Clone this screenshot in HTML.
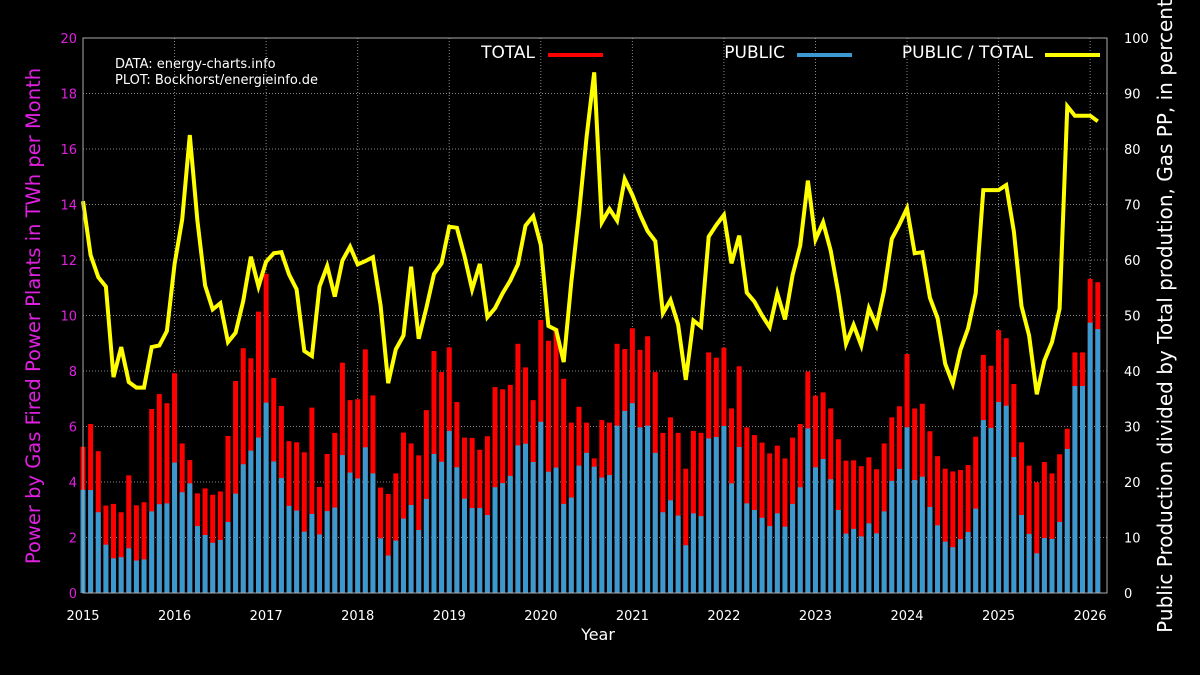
<!DOCTYPE html>
<html><head><meta charset="utf-8"><style>
html,body{margin:0;padding:0;background:#000;}
svg{display:block;font-family:"DejaVu Sans","Liberation Sans",sans-serif;}
</style></head><body>
<svg id="chart" width="1200" height="675" viewBox="0 0 1200 675">
<rect width="1200" height="675" fill="#000"/>
<g id="grid"></g><g id="bars"></g><g id="line"></g><g id="axes"></g>
<text x="115" y="68" fill="#fff" font-size="13">DATA: energy-charts.info</text>
<text x="115" y="84" fill="#fff" font-size="13">PLOT: Bockhorst/energieinfo.de</text>
<g>
<text x="535" y="58" fill="#fff" font-size="17" text-anchor="end">TOTAL</text>
<line x1="548" y1="55" x2="603" y2="55" stroke="#f00" stroke-width="4"/>
<text x="785" y="58" fill="#fff" font-size="17" text-anchor="end">PUBLIC</text>
<line x1="797" y1="55" x2="852" y2="55" stroke="#3a9ad0" stroke-width="4"/>
<text x="1033" y="58" fill="#fff" font-size="17" text-anchor="end">PUBLIC / TOTAL</text>
<line x1="1045" y1="55" x2="1100" y2="55" stroke="#ff0" stroke-width="4"/>
</g>
<text transform="translate(40,316) rotate(-90)" fill="#e020e0" font-size="19.5" text-anchor="middle">Power by Gas Fired Power Plants in TWh per Month</text>
<text transform="translate(1172,316) rotate(-90)" fill="#fff" font-size="20" text-anchor="middle">Public Production divided by Total prodution, Gas PP, in percent</text>
<text x="598" y="640" fill="#fff" font-size="16" text-anchor="middle">Year</text>
</svg>
<script>
const years=["2015","2016","2017","2018","2019","2020","2021","2022","2023","2024","2025","2026"];
const leftTicks=[0,2,4,6,8,10,12,14,16,18,20];
const rightTicks=[0,10,20,30,40,50,60,70,80,90,100];
const total=[5.27,6.09,5.11,3.15,3.21,2.91,4.24,3.16,3.27,6.63,7.17,6.84,7.92,5.39,4.79,3.59,3.77,3.54,3.66,5.66,7.64,8.82,8.46,10.14,11.5,7.75,6.74,5.47,5.43,5.07,6.68,3.82,5.01,5.77,8.30,6.95,6.98,8.78,7.12,3.80,3.57,4.31,5.78,5.39,4.96,6.59,8.72,7.96,8.85,6.88,5.60,5.59,5.16,5.65,7.42,7.34,7.50,8.98,8.13,6.95,9.84,9.09,9.53,7.72,6.14,6.71,6.14,4.85,6.23,6.14,8.98,8.79,9.54,8.76,9.25,7.96,5.77,6.33,5.77,4.48,5.84,5.77,8.67,8.48,8.84,6.65,8.17,5.97,5.69,5.42,5.03,5.31,4.85,5.60,6.09,7.98,7.11,7.23,6.65,5.54,4.77,4.78,4.57,4.89,4.46,5.39,6.33,6.73,8.61,6.65,6.82,5.83,4.93,4.48,4.38,4.43,4.61,5.63,8.58,8.19,9.47,9.18,7.53,5.43,4.59,3.99,4.72,4.31,5.00,5.92,8.67,8.67,11.32,11.20];
const pub=[3.72,3.71,2.91,1.74,1.25,1.29,1.61,1.17,1.21,2.94,3.20,3.23,4.70,3.63,3.95,2.41,2.09,1.81,1.91,2.56,3.58,4.64,5.13,5.60,6.86,4.74,4.14,3.14,2.97,2.21,2.85,2.11,2.95,3.08,4.97,4.34,4.13,5.25,4.31,1.97,1.35,1.89,2.68,3.17,2.27,3.39,5.01,4.73,5.84,4.53,3.40,3.06,3.06,2.81,3.81,3.96,4.22,5.32,5.38,4.72,6.17,4.37,4.52,3.21,3.44,4.59,5.05,4.55,4.16,4.25,6.03,6.56,6.84,5.97,6.03,5.05,2.91,3.34,2.79,1.72,2.87,2.77,5.57,5.62,6.02,3.95,5.26,3.23,2.99,2.71,2.41,2.87,2.39,3.21,3.81,5.93,4.53,4.83,4.10,2.99,2.14,2.31,2.04,2.51,2.15,2.94,4.04,4.47,5.97,4.07,4.19,3.10,2.44,1.85,1.65,1.94,2.20,3.04,6.23,5.95,6.88,6.75,4.90,2.81,2.13,1.43,1.98,1.95,2.56,5.19,7.46,7.46,9.74,9.51];
const ratio=[70.6,60.9,56.9,55.2,38.9,44.3,38.0,37.0,37.0,44.3,44.6,47.2,59.3,67.3,82.5,67.1,55.4,51.1,52.2,45.2,46.9,52.6,60.6,55.2,59.7,61.2,61.4,57.4,54.7,43.6,42.7,55.2,58.9,53.4,59.9,62.4,59.2,59.8,60.5,51.8,37.8,43.9,46.4,58.8,45.8,51.4,57.5,59.4,66.0,65.8,60.7,54.7,59.3,49.7,51.3,54.0,56.3,59.2,66.2,67.9,62.7,48.1,47.4,41.6,56.0,68.4,82.2,93.8,66.8,69.2,67.1,74.6,71.7,68.2,65.2,63.4,50.4,52.8,48.4,38.4,49.1,48.0,64.2,66.3,68.1,59.4,64.4,54.1,52.5,50.0,47.9,54.0,49.3,57.3,62.6,74.3,63.7,66.8,61.7,54.0,44.9,48.3,44.6,51.3,48.2,54.5,63.8,66.4,69.3,61.2,61.4,53.2,49.5,41.3,37.7,43.8,47.7,54.0,72.6,72.6,72.6,73.5,65.1,51.7,46.4,35.8,41.9,45.2,51.2,87.7,86.0,86.0,86.0,85.0];

const NS="http://www.w3.org/2000/svg";
const X0=83,DX=7.63,YB=593,YT=38,PL=83,PR=1107;
const xOf=i=>X0+i*DX;
const yL=v=>YB-(v/20)*(YB-YT);
const yR=v=>YB-(v/100)*(YB-YT);
function mk(tag,attrs,parent){const e=document.createElementNS(NS,tag);for(const k in attrs)e.setAttribute(k,attrs[k]);parent.appendChild(e);return e;}
const grid=document.getElementById('grid'),bars=document.getElementById('bars'),line=document.getElementById('line'),axes=document.getElementById('axes');

leftTicks.forEach((t,k)=>{
  const y=yL(t);
  if(k>0&&k<leftTicks.length-1){const g=mk('line',{x1:PL,x2:PR,y1:y,y2:y,stroke:'#888','stroke-width':1,'stroke-dasharray':'1,2'},grid);
  
  }
  const tx=mk('text',{x:77,y:y+5,fill:'#e020e0','font-size':13,'text-anchor':'end'},axes);tx.textContent=t;
  
  
});
rightTicks.forEach(t=>{
  const y=yR(t);
  const tx=mk('text',{x:1124,y:y+5,fill:'#fff','font-size':13,'text-anchor':'start'},axes);tx.textContent=t;
  
  
});
years.forEach((yr,k)=>{
  const x=xOf(k*12);
  if(k>0){const g=mk('line',{x1:x,x2:x,y1:YT,y2:YB,stroke:'#888','stroke-width':1,'stroke-dasharray':'1,2'},grid);
  
  }
  const tx=mk('text',{x:x,y:620,fill:'#fff','font-size':13,'text-anchor':'middle'},axes);tx.textContent=yr;
  
  
});
const frame=mk('rect',{x:PL,y:YT,width:PR-PL,height:YB-YT,fill:'none',stroke:'#aaa','stroke-width':1},axes);



total.forEach((v,i)=>{
  const x=xOf(i);
  const r=mk('rect',{x:x-2.5,y:yL(v),width:5,height:YB-yL(v),fill:'#f00'},bars);
  
  
  const b=mk('rect',{x:x-2.5,y:yL(pub[i]),width:5,height:YB-yL(pub[i]),fill:'#3a9ad0'},bars);
  
  
});
const pts=ratio.map((v,i)=>xOf(i).toFixed(1)+','+yR(v).toFixed(1)).join(' ');
const pl=mk('polyline',{points:pts,fill:'none',stroke:'#ff0','stroke-width':4,'stroke-linejoin':'miter'},line);


</script>
</body></html>
